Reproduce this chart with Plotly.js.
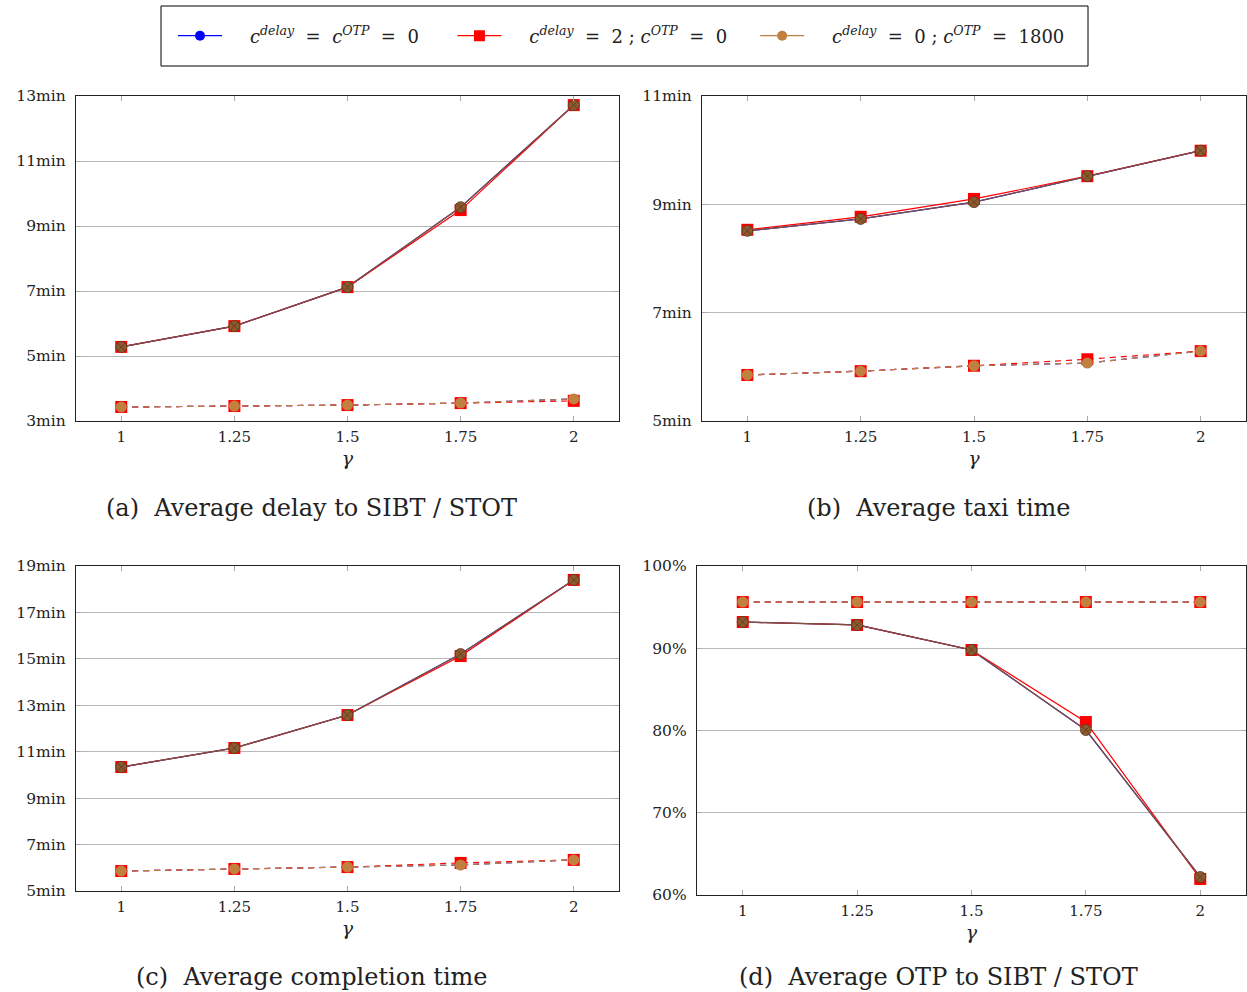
<!DOCTYPE html>
<html>
<head>
<meta charset="utf-8">
<script src="https://cdn.plot.ly/plotly-3.0.1.min.js"></script>
<style>html,body{margin:0;padding:0;background:#fff}#chart{width:1247px;height:992px}</style>
</head>
<body>
<div id="chart"></div>
<script>
// x values (gamma)
const gamma = [1, 1.25, 1.5, 1.75, 2];
const gammaLabels = ['1', '1.25', '1.5', '1.75', '2'];

// (a) Average delay to SIBT / STOT (min)
const delaySolidBase = [5.28, 5.92, 7.12, 9.58, 12.72];
const delaySolidRed  = [5.28, 5.92, 7.12, 9.49, 12.72];
const delaySolidOTP  = [5.28, 5.92, 7.12, 9.58, 12.72];
const delayDashBase  = [3.43, 3.46, 3.49, 3.55, 3.68];
const delayDashRed   = [3.43, 3.46, 3.49, 3.55, 3.62];
const delayDashOTP   = [3.43, 3.46, 3.49, 3.55, 3.68];

// (b) Average taxi time (min)
const taxiSolidBase = [8.51, 8.73, 9.04, 9.52, 9.99];
const taxiSolidRed  = [8.53, 8.77, 9.10, 9.52, 9.99];
const taxiSolidOTP  = [8.51, 8.73, 9.04, 9.52, 9.99];
const taxiDashBase  = [5.85, 5.92, 6.02, 6.07, 6.29];
const taxiDashRed   = [5.85, 5.92, 6.02, 6.14, 6.29];
const taxiDashOTP   = [5.85, 5.92, 6.02, 6.07, 6.29];

// (c) Average completion time (min)
const compSolidBase = [10.34, 11.16, 12.58, 15.21, 18.40];
const compSolidRed  = [10.34, 11.16, 12.58, 15.12, 18.40];
const compSolidOTP  = [10.34, 11.16, 12.58, 15.21, 18.40];
const compDashBase  = [5.86, 5.95, 6.03, 6.12, 6.34];
const compDashRed   = [5.86, 5.95, 6.03, 6.21, 6.34];
const compDashOTP   = [5.86, 5.95, 6.03, 6.12, 6.34];

// (d) Average OTP to SIBT / STOT (%)
const otpSolidBase = [93.19, 92.83, 89.79, 80.06, 62.19];
const otpSolidRed  = [93.19, 92.83, 89.79, 81.03, 61.95];
const otpSolidOTP  = [93.19, 92.83, 89.79, 80.06, 62.19];
const otpDashBase  = [95.62, 95.62, 95.62, 95.62, 95.62];
const otpDashRed   = [95.62, 95.62, 95.62, 95.62, 95.62];
const otpDashOTP   = [95.62, 95.62, 95.62, 95.62, 95.62];

const legendNames = [
  '<i>c</i><sup><i>delay</i></sup>&nbsp; = &nbsp;<i>c</i><sup><i>OTP</i></sup>&nbsp; = &nbsp;0',
  '<i>c</i><sup><i>delay</i></sup>&nbsp; = &nbsp;2 ; <i>c</i><sup><i>OTP</i></sup>&nbsp; = &nbsp;0',
  '<i>c</i><sup><i>delay</i></sup>&nbsp; = &nbsp;0 ; <i>c</i><sup><i>OTP</i></sup>&nbsp; = &nbsp;1800'
];
const legendLead = 4, legendTrail = [5, 4, 0];
const captions = [
  '(a)&nbsp; Average delay to SIBT / STOT',
  '(b)&nbsp; Average taxi time',
  '(c)&nbsp; Average completion time',
  '(d)&nbsp; Average OTP to SIBT / STOT'
];

const BLUE = '#0000ff', RED = '#ff0000', BROWN = '#c08040', DARKBROWN = '#7d5040';
const SERIF = 'DejaVu Serif, Liberation Serif, serif';

const panels = [
  {x: 'x', y: 'y', data: [delaySolidBase, delayDashBase, delaySolidRed, delayDashRed, delaySolidOTP, delayDashOTP]},
  {x: 'x2', y: 'y2', data: [taxiSolidBase, taxiDashBase, taxiSolidRed, taxiDashRed, taxiSolidOTP, taxiDashOTP]},
  {x: 'x3', y: 'y3', data: [compSolidBase, compDashBase, compSolidRed, compDashRed, compSolidOTP, compDashOTP]},
  {x: 'x4', y: 'y4', data: [otpSolidBase, otpDashBase, otpSolidRed, otpDashRed, otpSolidOTP, otpDashOTP]}
];

const traces = [];
panels.forEach(p => {
  const d = p.data;
  const common = {x: gamma, xaxis: p.x, yaxis: p.y, mode: 'lines+markers', showlegend: false, hoverinfo: 'x+y'};
  traces.push(Object.assign({}, common, {y: d[0], line: {color: BLUE, width: 1.2}, marker: {symbol: 'circle', size: 10, color: BLUE}}));
  traces.push(Object.assign({}, common, {y: d[1], line: {color: BLUE, width: 1.2, dash: '6px,5px'}, marker: {symbol: 'circle', size: 10, color: BLUE}}));
  traces.push(Object.assign({}, common, {y: d[2], line: {color: RED, width: 1.2}, marker: {symbol: 'square', size: 12, color: RED}}));
  traces.push(Object.assign({}, common, {y: d[3], line: {color: RED, width: 1.2, dash: '6px,5px'}, marker: {symbol: 'square', size: 12, color: RED}}));
  traces.push(Object.assign({}, common, {y: d[4], line: {color: DARKBROWN, width: 1.3}, marker: {symbol: 'circle-x', size: 11, color: '#8c5a2e', line: {color: '#5a3a20', width: 0.8}}}));
  traces.push(Object.assign({}, common, {y: d[5], line: {color: BROWN, width: 1.2, dash: '6px,5px'}, marker: {symbol: 'circle', size: 11, color: BROWN}}));
});

// legend-only entries
const pad = n => '&nbsp;'.repeat(n);
[[BLUE, 'circle', 10], [RED, 'square', 11], [BROWN, 'circle', 10]].forEach((s, i) => {
  traces.push({x: [null], y: [null], xaxis: 'x', yaxis: 'y', mode: 'lines+markers',
    name: pad(legendLead) + legendNames[i] + pad(legendTrail[i]),
    line: {color: s[0], width: 1.2}, marker: {symbol: s[1], size: s[2], color: s[0]}, showlegend: true});
});

function xa(domain, anchor) {
  return {
    domain: domain, anchor: anchor, range: [0.9, 2.1], tickvals: gamma, ticktext: gammaLabels,
    showgrid: false, zeroline: false, showline: true, linecolor: '#222', linewidth: 1.2, mirror: 'ticks',
    ticks: 'inside', ticklen: 5, tickcolor: '#aaa', tickwidth: 1,
    tickfont: {family: SERIF, size: 15, color: '#222'}, ticklabelstandoff: 2,
    title: {text: '<i>γ</i>', font: {family: SERIF, size: 19, color: '#222'}, standoff: 6}
  };
}
function ya(domain, anchor, range, dtick, suffix) {
  return {
    domain: domain, anchor: anchor, range: range, dtick: dtick, tick0: range[0], ticksuffix: suffix,
    showgrid: true, gridcolor: '#b8b8b8', gridwidth: 1, zeroline: false,
    showline: true, linecolor: '#222', linewidth: 1.2, mirror: 'ticks',
    ticks: 'inside', ticklen: 5, tickcolor: '#aaa', tickwidth: 1,
    tickfont: {family: SERIF, size: 15.5, color: '#222'}, ticklabelstandoff: 6
  };
}

const yTopDom = [1 - 421 / 992, 1 - 96 / 992];
const yBotDom = [1 - 891 / 992, 1 - 566 / 992];
const yBotDomD = [1 - 895 / 992, 1 - 566 / 992];

const layout = {
  width: 1247, height: 992,
  margin: {l: 0, r: 0, t: 0, b: 0},
  paper_bgcolor: '#fff', plot_bgcolor: '#fff',
  font: {family: SERIF, color: '#222'},
  xaxis: xa([76 / 1247, 619 / 1247], 'y'),
  yaxis: ya(yTopDom, 'x', [3, 13], 2, 'min'),
  xaxis2: xa([702 / 1247, 1246 / 1247], 'y2'),
  yaxis2: ya(yTopDom, 'x2', [5, 11], 2, 'min'),
  xaxis3: xa([76 / 1247, 619 / 1247], 'y3'),
  yaxis3: ya(yBotDom, 'x3', [5, 19], 2, 'min'),
  xaxis4: xa([697 / 1247, 1246 / 1247], 'y4'),
  yaxis4: ya(yBotDomD, 'x4', [60, 100], 10, '%'),
  showlegend: true,
  legend: {
    orientation: 'h', x: 173 / 1247, xanchor: 'left', y: 1 - 36 / 992, yanchor: 'middle',
    borderwidth: 0, bgcolor: 'rgba(0,0,0,0)',
    font: {family: SERIF, size: 18, color: '#222'},
    itemwidth: 44, itemclick: false
  },
  shapes: [
    {type: 'rect', xref: 'paper', yref: 'paper', x0: 161 / 1247, x1: 1088 / 1247, y0: 1 - 66 / 992, y1: 1 - 6 / 992,
      line: {color: '#000', width: 1}, fillcolor: 'rgba(0,0,0,0)', layer: 'below'}
  ],
  annotations: [
    {text: captions[0], x: 311 / 1247, y: 1 - 508 / 992},
    {text: captions[1], x: 939 / 1247, y: 1 - 508 / 992},
    {text: captions[2], x: 312 / 1247, y: 1 - 977 / 992},
    {text: captions[3], x: 938 / 1247, y: 1 - 977 / 992}
  ].map(a => Object.assign(a, {xref: 'paper', yref: 'paper', xanchor: 'center', yanchor: 'middle', showarrow: false,
    font: {family: SERIF, size: 24, color: '#222'}}))
};

Plotly.newPlot('chart', traces, layout, {staticPlot: true, displayModeBar: false});
</script>
</body>
</html>
